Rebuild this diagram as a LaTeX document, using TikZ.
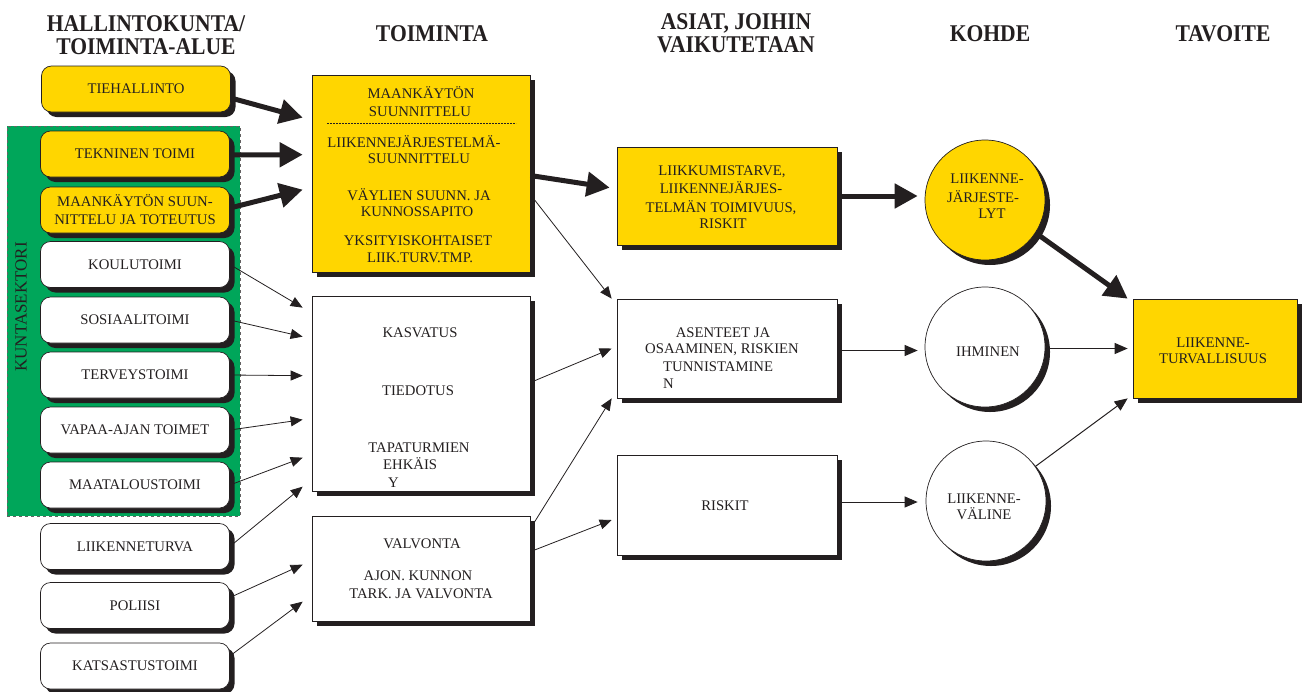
\documentclass[tikz,border=0pt]{standalone}
\usepackage{fontspec}
\setmainfont{Liberation Serif}
\newfontfamily\headfont[FakeStretch=0.9]{Liberation Serif}
\usetikzlibrary{arrows.meta,shadows}
\definecolor{ink}{RGB}{35,31,32}
\definecolor{gold}{RGB}{255,214,0}
\definecolor{kgreen}{RGB}{0,166,90}
\tikzset{
 every node/.style={text=ink},
 txt/.style={font=\fontsize{14.7}{17.5}\selectfont, inner sep=0pt, anchor=base},
 head/.style={font=\headfont\bfseries\fontsize{24}{21}\selectfont, inner sep=0pt, anchor=base},
 shad/.style={drop shadow={shadow xshift=5pt,shadow yshift=-5pt,fill=ink,opacity=1}},
 lbox/.style={draw=ink, line width=0.7pt, rounded corners=10pt, minimum width=189pt, minimum height=46pt, fill=white, shad, align=center, font=\fontsize{14.7}{18}\selectfont, inner sep=0pt},
 rbox/.style={draw=ink, line width=0.7pt, shad, inner sep=0pt},
 cnode/.style={circle, draw=ink, line width=0.7pt, minimum size=120pt, shad, inner sep=0pt},
 thickarr/.style={draw=ink, line width=5pt, -{Triangle[length=23pt,width=24pt]}},
 thinarr/.style={draw=ink, line width=0.8pt, -{Triangle[length=12pt,width=10pt]}},
 medarr/.style={draw=ink, line width=1pt, -{Triangle[length=13pt,width=11pt]}},
}
\begin{document}
\begin{tikzpicture}[x=1pt,y=-1pt]
\useasboundingbox (0,0) rectangle (1303,691);
% headings
\node[head] (h1a) at (146,31) {HALLINTOKUNTA/};
\node[head] (h1b) at (146,54) {TOIMINTA-ALUE};
\node[head] (h2) at (432,41) {TOIMINTA};
\node[head] (h3a) at (736,29) {ASIAT, JOIHIN};
\node[head] (h3b) at (736,52) {VAIKUTETAAN};
\node[head] (h4) at (990,41) {KOHDE};
\node[head] (h5) at (1223,41) {TAVOITE};
% municipal sector area
\node[draw=ink!70, dashed, line width=0.6pt, fill=kgreen, minimum width=233pt, minimum height=390pt, inner sep=0pt] (ks) at (123.5,321) {};
\node[rotate=90, inner sep=0pt, font=\fontsize{17}{17}\selectfont] (kst) at (21,307) {KUNTASEKTORI};
% left column
\node[lbox, fill=gold] (tieh) at (136,89) {TIEHALLINTO};
\node[lbox, fill=gold] (tekn) at (135,154) {TEKNINEN TOIMI};
\node[lbox, fill=gold] (maank) at (135,210) {MAANKÄYTÖN SUUN-\\NITTELU JA TOTEUTUS};
\node[lbox] (koulu) at (135,264.5) {KOULUTOIMI};
\node[lbox] (sos) at (135,320) {SOSIAALITOIMI};
\node[lbox] (terv) at (135,375) {TERVEYSTOIMI};
\node[lbox] (vapaa) at (135,430) {VAPAA-AJAN TOIMET};
\node[lbox] (maat) at (135,485) {MAATALOUSTOIMI};
\node[lbox] (liik) at (135,546.5) {LIIKENNETURVA};
\node[lbox] (pol) at (135,605.5) {POLIISI};
\node[lbox] (kats) at (135,666) {KATSASTUSTOIMI};
% toiminta column
\node[rbox, fill=gold, minimum width=218pt, minimum height=197pt] (tm) at (421,173.5) {};
\node[rbox, fill=white, minimum width=218pt, minimum height=195pt] (tk) at (421,393.5) {};
\node[rbox, fill=white, minimum width=218pt, minimum height=105pt] (tv) at (421,568.5) {};
\draw[ink, line width=0.5pt, dash pattern=on 2pt off 1pt] (327,123) -- (516,123);
\node[txt] (tm1) at (421,98) {MAANKÄYTÖN};
\node[txt] (tm2) at (420,116) {SUUNNITTELU};
\node[txt] (tm3) at (414,147) {LIIKENNEJÄRJESTELMÄ-};
\node[txt] (tm4) at (419,163) {SUUNNITTELU};
\node[txt] (tm5) at (419,200) {VÄYLIEN SUUNN. JA};
\node[txt] (tm6) at (417,216) {KUNNOSSAPITO};
\node[txt] (tm7) at (418,245) {YKSITYISKOHTAISET};
\node[txt] (tm8) at (420,262) {LIIK.TURV.TMP.};
\node[txt] (tk1) at (420,337) {KASVATUS};
\node[txt] (tk2) at (418,395) {TIEDOTUS};
\node[txt] (tk3) at (419,452) {TAPATURMIEN};
\node[txt, anchor=base west] (tk4) at (383,469) {EHKÄIS};
\node[txt, anchor=base west] (tk5) at (388,487) {Y};
\node[txt] (tv1) at (422,548) {VALVONTA};
\node[txt] (tv2) at (418,580) {AJON. KUNNON};
\node[txt] (tv3) at (421,598) {TARK. JA VALVONTA};
% asiat column
\node[rbox, fill=gold, minimum width=220pt, minimum height=98pt] (ay) at (727,196) {};
\node[rbox, fill=white, minimum width=220pt, minimum height=99pt] (aa) at (727,348.5) {};
\node[rbox, fill=white, minimum width=220pt, minimum height=100pt] (ar) at (727,505) {};
\node[txt] (ay1) at (722,175) {LIIKKUMISTARVE,};
\node[txt] (ay2) at (721,193) {LIIKENNEJÄRJES-};
\node[txt] (ay3) at (721,212) {TELMÄN TOIMIVUUS,};
\node[txt] (ay4) at (723,228) {RISKIT};
\node[txt] (aa1) at (723,337) {ASENTEET JA};
\node[txt] (aa2) at (722,353) {OSAAMINEN, RISKIEN};
\node[txt, anchor=base west] (aa3) at (663,371) {TUNNISTAMINE};
\node[txt, anchor=base west] (aa4) at (663,388) {N};
\node[txt] (ar1) at (725,510) {RISKIT};
% kohde column
\node[cnode, fill=gold] (cj) at (985,200) {};
\node[cnode, fill=white] (ci) at (985,347) {};
\node[cnode, fill=white] (cv) at (986,501) {};
\node[txt] (cj1) at (987,183) {LIIKENNE-};
\node[txt] (cj2) at (983,202) {JÄRJESTE-};
\node[txt] (cj3) at (992,218) {LYT};
\node[txt] (ci1) at (988,356) {IHMINEN};
\node[txt] (cv1) at (984,503) {LIIKENNE-};
\node[txt] (cv2) at (984,519) {VÄLINE};
% target
\node[rbox, fill=gold, minimum width=164pt, minimum height=99pt] (tg) at (1215,348.5) {};
\node[txt] (tg1) at (1213,347) {LIIKENNE-};
\node[txt] (tg2) at (1213,363) {TURVALLISUUS};
% arrows: left column -> toiminta
\draw[thickarr] ([yshift=-9pt]tieh.east) -- ([xshift=-9pt,yshift=-43pt]tm.north west);
\draw[thickarr] ([yshift=-1pt]tekn.east) -- ([xshift=-9pt,yshift=-80pt]tm.north west);
\draw[thickarr] ([yshift=2pt]maank.east) -- ([xshift=-9pt,yshift=-115pt]tm.north west);
\draw[thinarr] (koulu.east) -- ([xshift=-9pt,yshift=-12pt]tk.north west);
\draw[thinarr] (sos.east) -- ([xshift=-9pt,yshift=-41pt]tk.north west);
\draw[thinarr] (terv.east) -- ([xshift=-9pt,yshift=-80pt]tk.north west);
\draw[thinarr] (vapaa.east) -- ([xshift=-9pt,yshift=-124pt]tk.north west);
\draw[thinarr] (maat.east) -- ([xshift=-9pt,yshift=-162pt]tk.north west);
\draw[thinarr] (liik.east) -- ([xshift=-9pt,yshift=-191pt]tk.north west);
\draw[thinarr] ([yshift=8pt]pol.east) -- ([xshift=-9pt,yshift=-49pt]tv.north west);
\draw[thinarr] ([yshift=10pt]kats.east) -- ([xshift=-9pt,yshift=-86pt]tv.north west);
% toiminta -> asiat
\draw[thickarr] ([yshift=-2pt]tm.east) -- ([xshift=-7pt,yshift=-41pt]ay.north west);
\draw[thinarr] ([yshift=-21pt]tm.east) -- ([xshift=-5pt]aa.north west);
\draw[thinarr] ([yshift=11pt]tk.east) -- ([xshift=-5pt]aa.west);
\draw[thinarr] ([yshift=-13pt]tv.north east) -- ([xshift=-5pt]aa.south west);
\draw[thinarr] ([yshift=-36pt]tv.north east) -- ([xshift=-5pt,yshift=-15pt]ar.west);
% asiat -> kohde
\draw[thickarr] (ay.east) -- ([xshift=-7pt,yshift=4pt]cj.west);
\draw[medarr] ([yshift=-2pt]aa.east) -- ([xshift=-7pt,yshift=-3.5pt]ci.west);
\draw[medarr] ([yshift=3pt]ar.east) -- ([xshift=-8pt,yshift=-1pt]cv.west);
% kohde -> tavoite
\draw[thickarr] (cj.-33) -- ([xshift=-5pt]tg.north west);
\draw[medarr] ([yshift=-1.5pt]ci.east) -- ([xshift=-5pt]tg.west);
\draw[medarr] (cv.35) -- ([xshift=-5pt]tg.south west);
\end{tikzpicture}
\end{document}
